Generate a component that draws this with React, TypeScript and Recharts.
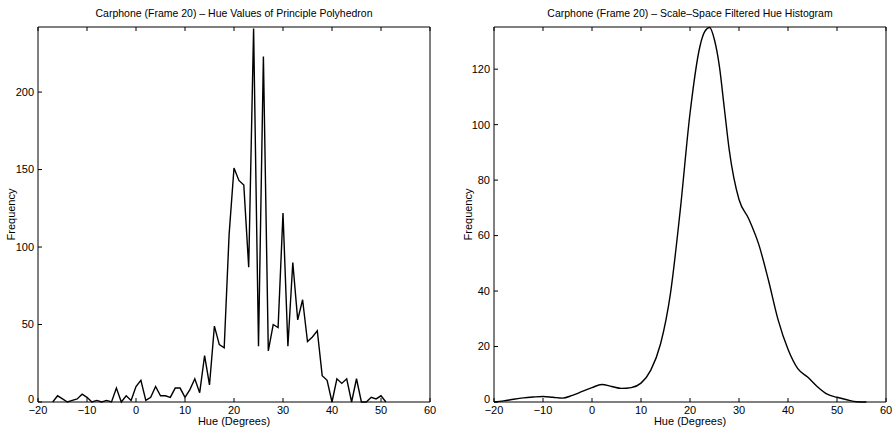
import React from 'react';
import { LineChart, Line, XAxis, YAxis, Label } from 'recharts';

// left panel: raw hue histogram (one value per degree)
const rawHue = [
  -17, -16, -15, -14, -13, -12, -11, -10, -9, -8, -7, -6, -5, -4, -3, -2, -1,
  0, 1, 2, 3, 4, 5, 6, 7, 8, 9, 10, 11, 12, 13, 14, 15, 16, 17, 18, 19,
  20, 21, 22, 23, 24, 25, 26, 27, 28, 29, 30, 31, 32, 33, 34, 35, 36, 37, 38, 39,
  40, 41, 42, 43, 44, 45, 46, 47, 48, 49, 50, 51,
];
const rawFreq = [
  0, 4, 2, 0, 1, 2, 5, 3, 0, 1, 0, 1, 0, 9, 0, 4, 1,
  10, 14, 1, 3, 10, 4, 4, 3, 9, 9, 3, 8, 15, 6, 30, 11, 49, 37, 35, 108,
  151, 143, 140, 87, 241, 36, 223, 33, 50, 48, 122, 36, 90, 53, 66, 39, 42, 46, 17, 14,
  0, 15, 12, 15, 0, 15, 0, 0, 3, 2, 4, 0,
];

// right panel: scale-space filtered histogram
const smoothHue = [
  -20, -18, -16, -14, -12, -10, -8, -6, -4, -2, 0, 2, 4, 6, 8, 10, 12, 14, 16, 18,
  20, 22, 23, 24, 25, 26, 27, 28, 30, 32, 34, 36, 38, 40, 42, 44, 46, 48, 50, 52, 54, 56,
];
const smoothFreq = [
  0, 0.4, 1.0, 1.5, 1.8, 2.0, 1.7, 1.4, 2.4, 3.8, 5.2, 6.3, 5.6, 4.9, 5.2, 6.8, 11.5, 21, 39, 69,
  104, 128, 133.5, 135, 130.5, 121, 106, 91, 73, 66, 57, 44, 29.5, 19, 12, 9, 5.5, 2.8, 1.7, 0.8, 0.1, 0,
];

const hueTicks = [-20, -10, 0, 10, 20, 30, 40, 50, 60];
const rawFreqTicks = [0, 50, 100, 150, 200];
const smoothFreqTicks = [0, 20, 40, 60, 80, 100, 120];

const FONT = '"Liberation Sans", Arial, Helvetica, sans-serif';
const tickStyle = { fill: '#000', fontSize: 11, fontFamily: FONT };
const axisStroke = { stroke: '#000', strokeWidth: 1 };
const noLabel = () => <g />;
const fmtMinus = (v: number) => String(v).replace('-', '\u2212');

// y tick labels; the 0 sits a bit higher so it clears the -20 below it
const FreqTick = (props: any) => {
  const { x, y, payload } = props;
  return (
    <text
      x={x}
      y={y}
      dy={payload.value === 0 ? '0.05em' : '0.355em'}
      textAnchor="end"
      fill="#000"
      fontSize={11}
      fontFamily={FONT}
    >
      {payload.value}
    </text>
  );
};

interface PanelProps {
  title: string;
  hue: number[];
  freq: number[];
  yMax: number;
  yTicks: number[];
  yAxisWidth: number;
  rightMargin: number;
  curve: 'linear' | 'monotone';
  freqLabelDx: number;
}

function Panel({ title, hue, freq, yMax, yTicks, yAxisWidth, rightMargin, curve, freqLabelDx }: PanelProps) {
  const data = hue.map((h, i) => ({ hue: h, freq: freq[i] }));
  return (
    <LineChart
      width={448}
      height={435}
      data={data}
      margin={{ top: 26, right: rightMargin, bottom: 0, left: 0 }}
      style={{ fontFamily: FONT }}
    >
      <XAxis
        xAxisId={0}
        dataKey="hue"
        type="number"
        domain={[-20, 60]}
        ticks={hueTicks}
        tickFormatter={fmtMinus}
        height={33}
        tickSize={-4}
        tickMargin={8}
        tick={tickStyle}
        axisLine={axisStroke}
        tickLine={axisStroke}
      >
        <Label value="Hue (Degrees)" position="insideBottom" offset={10} fill="#000" fontSize={11} />
      </XAxis>
      <XAxis
        xAxisId="top"
        orientation="top"
        dataKey="hue"
        type="number"
        domain={[-20, 60]}
        ticks={hueTicks}
        height={1}
        tickSize={-4}
        tick={noLabel}
        axisLine={axisStroke}
        tickLine={axisStroke}
      >
        <Label value={title} position="top" offset={9} fill="#000" fontSize={10.5} />
      </XAxis>
      <YAxis
        yAxisId={0}
        type="number"
        domain={[0, yMax]}
        ticks={yTicks}
        width={yAxisWidth}
        tickSize={-4}
        tickMargin={8}
        tick={<FreqTick />}
        axisLine={axisStroke}
        tickLine={axisStroke}
      >
        <Label value="Frequency" angle={-90} position="center" dx={freqLabelDx} fill="#000" fontSize={11} />
      </YAxis>
      <YAxis
        yAxisId="right"
        orientation="right"
        type="number"
        domain={[0, yMax]}
        ticks={yTicks}
        width={1}
        tickSize={-4}
        tick={noLabel}
        axisLine={axisStroke}
        tickLine={axisStroke}
      />
      <Line
        xAxisId={0}
        yAxisId={0}
        dataKey="freq"
        type={curve}
        stroke="#000"
        strokeWidth={1.4}
        dot={false}
        isAnimationActive={false}
      />
    </LineChart>
  );
}

export default function App() {
  return (
    <div style={{ position: 'absolute', left: 0, top: 0, width: 896, height: 435, background: '#fff', display: 'flex' }}>
      <Panel
        title="Carphone (Frame 20) – Hue Values of Principle Polyhedron"
        hue={rawHue}
        freq={rawFreq}
        yMax={242}
        yTicks={rawFreqTicks}
        yAxisWidth={38}
        rightMargin={17}
        curve="linear"
        freqLabelDx={-8}
      />
      <Panel
        title="Carphone (Frame 20) – Scale–Space Filtered Hue Histogram"
        hue={smoothHue}
        freq={smoothFreq}
        yMax={135.2}
        yTicks={smoothFreqTicks}
        yAxisWidth={46}
        rightMargin={9}
        curve="monotone"
        freqLabelDx={-3}
      />
    </div>
  );
}
